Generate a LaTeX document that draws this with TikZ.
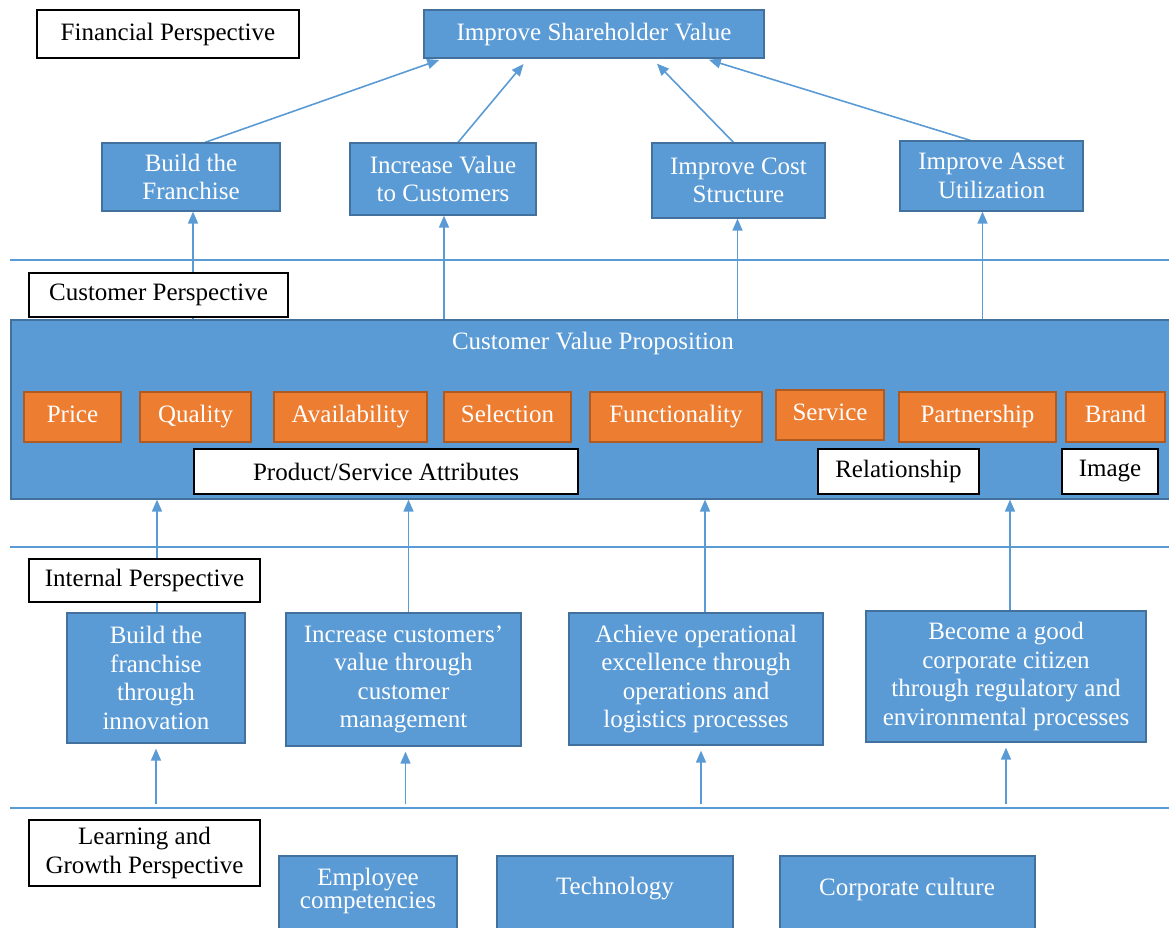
\documentclass[tikz,border=0pt]{standalone}
\usepackage{fontspec}
\setmainfont{Liberation Serif}
\usetikzlibrary{arrows.meta}
\definecolor{bfill}{HTML}{5B9BD5}
\definecolor{bdraw}{HTML}{41719C}
\definecolor{ofill}{HTML}{ED7D31}
\definecolor{odraw}{HTML}{AE5A21}
\definecolor{lcol}{HTML}{5B9BD5}
\pgfdeclarelayer{bg}
\pgfsetlayers{bg,main}
\newcommand\bx[6][]{\node[#1, minimum width={#5-#3}, minimum height={#6-#4}] (#2) at ({(#3+#5)/2},{(#4+#6)/2})}
\tikzset{
  base/.style={inner sep=0pt, align=center, font=\fontsize{25}{28.5}\selectfont},
  bluebox/.style={base, fill=bfill, draw=bdraw, line width=1.2pt, text=white},
  orangebox/.style={base, fill=ofill, draw=odraw, line width=1.2pt, text=white, text height=17pt, text depth=7pt},
  labelbox/.style={base, fill=white, draw=black, line width=1.5pt, text=black},
  conn/.style={draw=lcol, line width=1.6pt, -{Triangle[length=12pt,width=10pt]}},
  sepline/.style={draw=lcol, line width=1.6pt},
}
\begin{document}
\begin{tikzpicture}[x=1pt,y=-1pt]
\useasboundingbox (0,0) rectangle (1169,927);
\clip (0,0) rectangle (1169,927);
% financial
\bx[labelbox]{fin}{37}{10}{299}{58} {Financial Perspective};
\bx[bluebox]{isv}{424}{10}{764}{58} {Improve Shareholder Value};
\bx[bluebox]{r2a}{102}{143}{280}{211} {Build the\\Franchise};
\bx[bluebox]{r2b}{350}{143}{536}{215} {Increase Value\\to Customers};
\bx[bluebox]{r2c}{652}{143}{825}{218} {Improve Cost\\Structure};
\bx[bluebox]{r2d}{900}{141}{1083}{211} {Improve Asset\\Utilization};
% customer
\bx[labelbox]{cus}{29}{273}{288}{317} {Customer Perspective};
\bx[bluebox]{cvp}{11}{320}{1172}{499} {};
\node[base, text=white] (cvpt) at (593,343) {Customer Value Proposition};
\bx[orangebox]{price}{24}{392}{121}{442} {Price};
\bx[orangebox]{quality}{140}{392}{251}{442} {Quality};
\bx[orangebox]{avail}{274}{392}{427}{442} {Availability};
\bx[orangebox]{select}{444}{392}{571}{442} {Selection};
\bx[orangebox]{func}{590}{392}{762}{442} {Functionality};
\bx[orangebox]{serv}{776}{390}{884}{440} {Service};
\bx[orangebox]{part}{899}{392}{1056}{442} {Partnership};
\bx[orangebox]{brand}{1066}{392}{1165}{442} {Brand};
\bx[labelbox]{psa}{194}{449}{578}{494} {Product/Service Attributes};
\bx[labelbox]{rel}{818}{449}{979}{494} {Relationship};
\bx[labelbox]{img}{1062}{449}{1158}{494} {Image};
% internal
\bx[labelbox]{int}{29}{559}{260}{602} {Internal Perspective};
\bx[bluebox]{r3a}{67}{613}{245}{743} {Build the\\franchise\\through\\innovation};
\bx[bluebox]{r3b}{286}{613}{521}{746} {Increase customers’\\value through\\customer\\management};
\bx[bluebox]{r3c}{569}{613}{823}{745} {Achieve operational\\excellence through\\operations and\\logistics processes};
\bx[bluebox]{r3d}{866}{611}{1146}{742} {Become a good\\corporate citizen\\through regulatory and\\environmental processes};
% learning
\bx[labelbox]{lg}{29}{820}{260}{886} {Learning and\\Growth Perspective};
\bx[bluebox]{emp}{279}{856}{457}{940} {};
\node[base, font=\fontsize{25}{23}\selectfont, text=white] (empt) at (368,891) {Employee\\competencies};
\bx[bluebox]{tech}{497}{856}{733}{940} {};
\node[base, text=white] (techt) at (615,889) {Technology};
\bx[bluebox]{cult}{780}{856}{1035}{940} {};
\node[base, text=white] (cultt) at (907,889) {Corporate culture};
% lines
\coordinate (L1s) at (10,260); \coordinate (L1e) at (1169,260);
\coordinate (L2s) at (10,547); \coordinate (L2e) at (1169,547);
\coordinate (L3s) at (10,808); \coordinate (L3e) at (1169,808);
\begin{pgfonlayer}{bg}
\draw[sepline] (L1s) -- (L1e);
\draw[sepline] (L2s) -- (L2e);
\draw[sepline] (L3s) -- (L3e);
% diagonals
\draw[conn, shorten >=4pt] ([xshift=14pt]r2a.north) -- ([xshift=-151pt]isv.south);
\draw[conn, shorten >=7pt] ([xshift=15pt]r2b.north) -- ([xshift=-66pt]isv.south);
\draw[conn, shorten >=7pt] ([xshift=-5pt]r2c.north) -- ([xshift=58pt]isv.south);
\draw[conn, shorten >=4pt] ([xshift=-21pt]r2d.north) -- ([xshift=111pt]isv.south);
% cvp to row 2
\draw[conn] ([xshift=2pt]r2a.south |- cvp.north) -- ([xshift=2pt]r2a.south);
\draw[conn] ([xshift=1pt]r2b.south |- cvp.north) -- ([xshift=1pt]r2b.south);
\draw[conn] ([xshift=-1pt]r2c.south |- cvp.north) -- ([xshift=-1pt]r2c.south);
\draw[conn] ([xshift=-9pt]r2d.south |- cvp.north) -- ([xshift=-9pt]r2d.south);
% row 3 to cvp
\draw[conn] ([xshift=1pt]r3a.north) -- ([xshift=1pt]r3a.north |- cvp.south);
\draw[conn] ([xshift=5pt]r3b.north) -- ([xshift=5pt]r3b.north |- cvp.south);
\draw[conn] ([xshift=9pt]r3c.north) -- ([xshift=9pt]r3c.north |- cvp.south);
\draw[conn] ([xshift=4pt]r3d.north) -- ([xshift=4pt]r3d.north |- cvp.south);
% learning line to row 3
\draw[conn, shorten >=5pt] ([yshift=4pt]r3a.south |- L3s) -- (r3a.south);
\draw[conn, shorten >=5pt] ([xshift=2pt,yshift=4pt]r3b.south |- L3s) -- ([xshift=2pt]r3b.south);
\draw[conn, shorten >=5pt] ([xshift=5pt,yshift=4pt]r3c.south |- L3s) -- ([xshift=5pt]r3c.south);
\draw[conn, shorten >=5pt] ([yshift=4pt]r3d.south |- L3s) -- (r3d.south);
\end{pgfonlayer}
\end{tikzpicture}
\end{document}
